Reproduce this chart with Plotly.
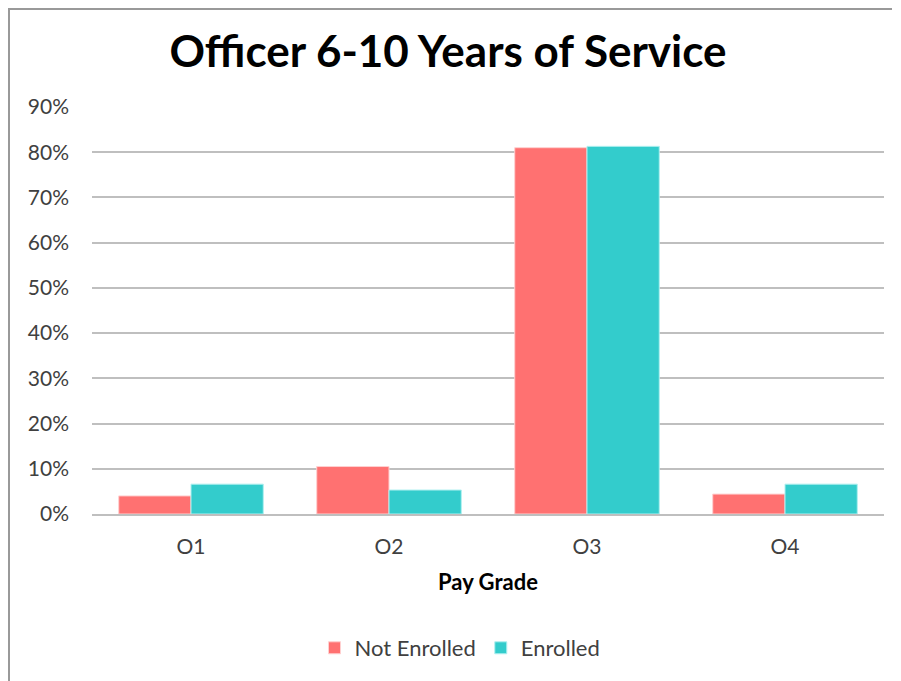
import plotly.graph_objects as go

grades = ["O1", "O2", "O3", "O4"]
not_enrolled = [0.040, 0.105, 0.810, 0.044]
enrolled = [0.066, 0.053, 0.813, 0.066]
y_ticks = [0, 0.1, 0.2, 0.3, 0.4, 0.5, 0.6, 0.7, 0.8, 0.9]

CORAL = "#ff7171"
TEAL = "#33cccc"
FONT = "Lato, Open Sans, sans-serif"

# page body has an 8px margin, so the figure is a little smaller than the window
W, H = 893, 673
L, R, T, B = 84, 17, 99, 167
PW, PH = W - L - R, H - T - B

fig = go.Figure()
fig.add_trace(go.Bar(
    x=grades, y=not_enrolled, name="Not Enrolled",
    marker=dict(color=CORAL, line=dict(color="#ffd0d0", width=1)),
))
fig.add_trace(go.Bar(
    x=grades, y=enrolled, name="Enrolled",
    marker=dict(color=TEAL, line=dict(color="#b0f0f0", width=1)),
))

fig.update_layout(
    width=W, height=H,
    paper_bgcolor="white", plot_bgcolor="white",
    font=dict(family=FONT, size=21, color="#404040"),
    title=dict(text="<b>Officer 6-10 Years of Service</b>", x=440 / W, xanchor="center",
               y=1 - 44 / H, yanchor="middle",
               font=dict(family=FONT, size=44, color="black")),
    barmode="group", bargap=0.27, bargroupgap=0,
    margin=dict(l=L, r=R, t=T, b=B),
    showlegend=True,
    legend=dict(orientation="h", x=(452 - L) / PW, xanchor="center",
                y=-(640 - (H - B)) / PH, yanchor="middle",
                font=dict(size=22, color="#404040"), itemwidth=30, traceorder="normal"),
)
fig.update_yaxes(range=[0, 0.9], tickvals=y_ticks, tickformat=".0%",
                 showgrid=True, gridcolor="#bfbfbf", gridwidth=1.5,
                 zeroline=False, ticks="", ticklabelstandoff=22)
fig.update_xaxes(showline=True, linecolor="#bfbfbf", linewidth=1.5, ticks="",
                 ticklabelstandoff=13,
                 title=dict(text="<b>Pay Grade</b>", standoff=18,
                            font=dict(size=22, color="black")))

# thin grey frame along the top and left edges
fig.add_shape(type="line", xref="paper", yref="paper",
              x0=-L / PW, x1=(884 - L) / PW, y0=1 + (T - 1) / PH, y1=1 + (T - 1) / PH,
              line=dict(color="#999999", width=2))
fig.add_shape(type="line", xref="paper", yref="paper",
              x0=(1 - L) / PW, x1=(1 - L) / PW, y0=1 + T / PH, y1=-B / PH,
              line=dict(color="#999999", width=2))

fig.write_html("out.html")
